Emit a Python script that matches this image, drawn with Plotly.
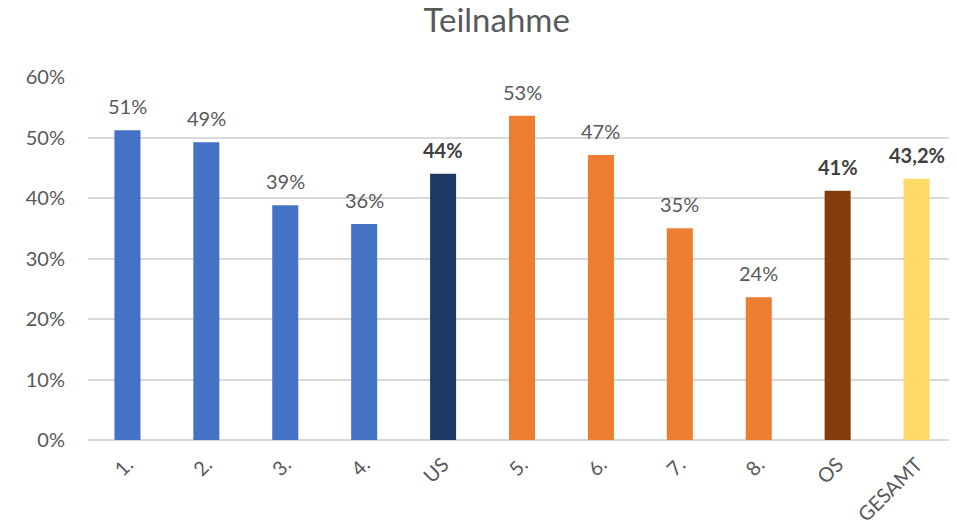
import plotly.graph_objects as go

categories = ["1.", "2.", "3.", "4.", "US", "5.", "6.", "7.", "8.", "OS", "GESAMT"]
values = [0.512, 0.492, 0.388, 0.357, 0.440, 0.536, 0.471, 0.350, 0.236, 0.412, 0.432]
labels = ["51%", "49%", "39%", "36%", "44%", "53%", "47%", "35%", "24%", "41%", "43,2%"]
bold = [False, False, False, False, True, False, False, False, False, True, True]
colors = ["#4472C4", "#4472C4", "#4472C4", "#4472C4", "#203864",
          "#ED7D31", "#ED7D31", "#ED7D31", "#ED7D31", "#843C0C", "#FFD966"]

FONT = "Lato, 'Open Sans', sans-serif"

fig = go.Figure(go.Bar(
    x=categories, y=values, marker=dict(color=colors, line=dict(width=0)),
    width=0.33, hoverinfo="skip"))

for i, (v, t, b) in enumerate(zip(values, labels, bold)):
    fig.add_annotation(
        x=i, y=v, text=f"<b>{t}</b>" if b else t, showarrow=False,
        yanchor="bottom", yshift=10,
        font=dict(family=FONT, size=20, color="#404040" if b else "#595959"))

fig.update_layout(
    width=949, height=521,
    margin=dict(l=80, r=1, t=69, b=89),
    paper_bgcolor="white", plot_bgcolor="white",
    title=dict(text="Teilnahme", x=0.515, xanchor="center", y=0.998, yanchor="top",
               font=dict(family=FONT, size=33, color="#595959")),
    showlegend=False,
)
fig.update_xaxes(type="category", tickangle=-45,
                 tickfont=dict(family=FONT, size=20, color="#595959"),
                 showgrid=False, showline=False, ticks="", ticklabelstandoff=8)
fig.update_yaxes(range=[0, 0.6], dtick=0.1, tickformat=".0%",
                 tickfont=dict(family=FONT, size=20, color="#595959"),
                 showgrid=True, gridcolor="#D9D9D9", gridwidth=1.5,
                 zeroline=True, zerolinecolor="#D9D9D9", zerolinewidth=1.5,
                 showline=False, ticks="", ticklabelstandoff=22)

fig.write_html("out.html")
